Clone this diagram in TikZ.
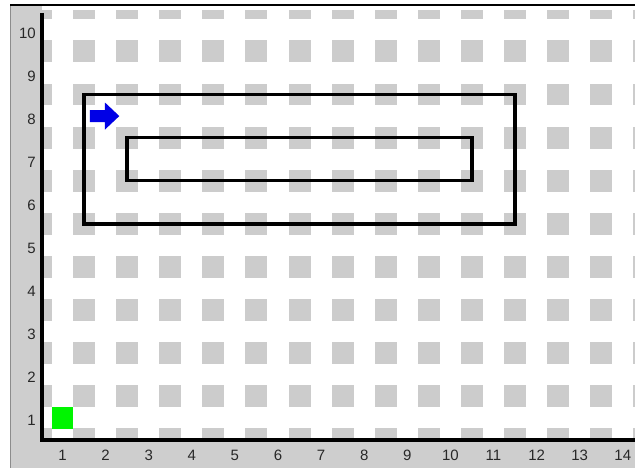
\documentclass[tikz,border=0pt]{standalone}
\usepackage{fontspec}
\setmainfont{Liberation Sans}
\definecolor{blockgray}{RGB}{204,204,204}
\definecolor{stripgray}{RGB}{206,206,206}
\definecolor{labelgray}{RGB}{40,40,40}
\definecolor{edgegray}{RGB}{140,140,140}
\definecolor{beepergreen}{RGB}{0,245,0}
\definecolor{robotblue}{RGB}{0,0,230}
\begin{document}
\begin{tikzpicture}[x=1pt,y=-1pt,
  lbl/.style={font=\fontsize{15}{15}\selectfont, text=labelgray, inner sep=0pt},
  wall/.style={line width=3.5pt, line join=miter, line cap=rect},
  block/.style={fill=blockgray}]
\useasboundingbox (0,0) rectangle (635,468);
\fill[white] (0,0) rectangle (635,468);
% panel strips
\fill[stripgray] (10,5) rectangle (42,468);
\fill[stripgray] (42,440) rectangle (635,468);
\draw[line width=1pt, edgegray] (10,5) -- (10,468);
\draw[line width=1.5pt] (10,5) -- (635,5);
% blocks
\begin{scope}
\clip (42,11) rectangle (635,440);
\begin{scope}[shift={(19.4,460.85)}, x=43.1pt, y=43.1pt]
\foreach \i in {0,...,14} \foreach \j in {0,...,10}
  \fill[block] (\i+0.245,\j+0.245) rectangle (\i+0.755,\j+0.755);
\end{scope}
\end{scope}
% axes
\draw[line width=3.5pt, line join=miter] (42,13) -- (42,440) -- (636,440);
\begin{scope}[shift={(19.4,460.85)}, x=43.1pt, y=43.1pt]
% walls
\draw[wall] (1.5,5.5) rectangle (11.5,8.5);
\draw[wall] (2.5,6.5) rectangle (10.5,7.5);
% beeper
\fill[beepergreen] (0.745,0.745) rectangle (1.255,1.255);
% robot
\fill[robotblue] (2-0.362,8-0.139) -- (2-0.014,8-0.139) -- (2-0.014,8-0.313)
  -- (2+0.318,8) -- (2-0.014,8+0.313) -- (2-0.014,8+0.139) -- (2-0.362,8+0.139) -- cycle;
% column labels
\foreach \c in {1,...,14}
  \node[lbl] (col\c) at (\c,0.136) {\c};
% row labels
\foreach \r in {1,...,10}
  \node[lbl, anchor=east] (row\r) at (0.385,\r-0.07) {\r};
\end{scope}
\end{tikzpicture}
\end{document}
